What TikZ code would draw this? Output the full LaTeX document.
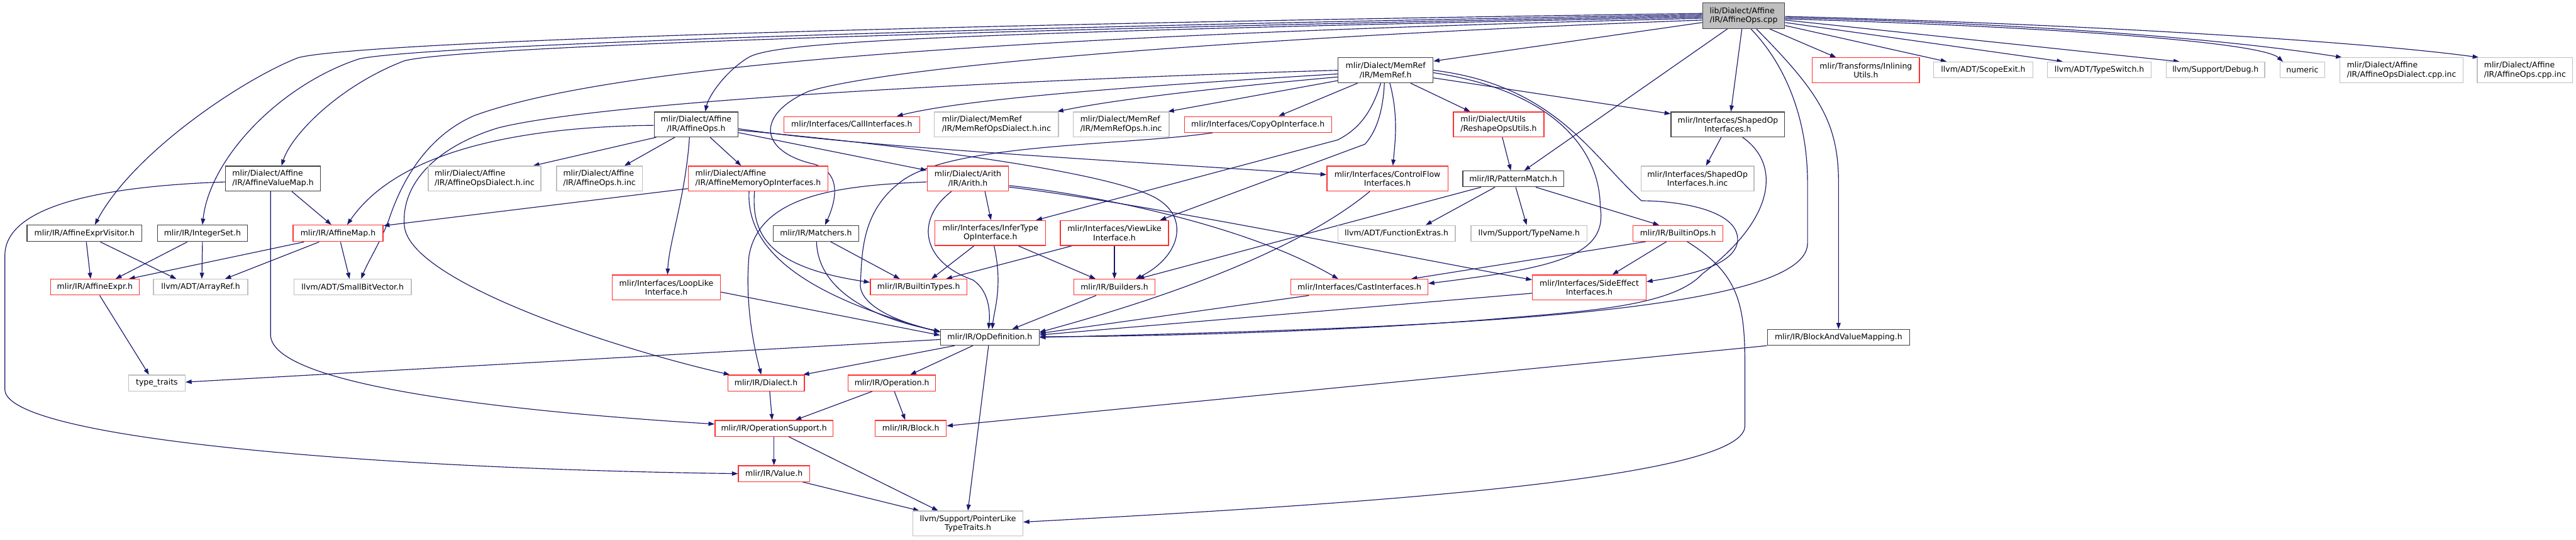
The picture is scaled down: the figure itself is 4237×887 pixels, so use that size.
\documentclass[tikz,border=0pt]{standalone}
\usepackage{fontspec}
\setmainfont{DejaVu Sans}
\usetikzlibrary{arrows.meta}
\pgfdeclarelayer{bg}
\pgfsetlayers{bg,main}
\definecolor{edgec}{HTML}{191970}
\definecolor{redb}{HTML}{FF3030}
\definecolor{grayb}{HTML}{BFBFBF}
\definecolor{blackb}{HTML}{404040}
\begin{document}
\begin{tikzpicture}[x=1pt,y=-1pt,
  box/.style={draw, line width=1.3pt, fill=white, inner sep=0pt, text=black,
    font=\fontsize{12.9}{15}\selectfont, align=center},
  kbox/.style={box, draw=blackb},
  rbox/.style={box, draw=redb},
  gbox/.style={box, draw=grayb},
  sz/.style 2 args={minimum width=#1, minimum height=#2},
  conn/.style={draw=edgec, line width=1.2pt, -{Triangle[length=10pt,width=7pt]}}]
\useasboundingbox (0,0) rectangle (4237,887);
% ---------- nodes ----------
\node[kbox, fill=grayb, sz={135}{42}, align=left] (root) at (2868,26) {lib/Dialect/Affine\\/IR/AffineOps.cpp};
\node[kbox, sz={156}{41}] (memref) at (2279,115.5) {mlir/Dialect/MemRef\\/IR/MemRef.h};
\node[rbox, sz={176}{41}] (inlining) at (3069,115.5) {mlir/Transforms/Inlining\\Utils.h};
\node[gbox, sz={163}{26}] (scopeexit) at (3262,115) {llvm/ADT/ScopeExit.h};
\node[gbox, sz={171}{26}] (typeswitch) at (3453,115) {llvm/ADT/TypeSwitch.h};
\node[gbox, sz={162}{26}] (debug) at (3644,115) {llvm/Support/Debug.h};
\node[gbox, sz={74}{26}] (numeric) at (3787,115) {numeric};
\node[gbox, sz={203}{41}, align=left] (dialcpp) at (3950,115.5) {mlir/Dialect/Affine\\/IR/AffineOpsDialect.cpp.inc};
\node[gbox, sz={157}{41}, align=left] (opscpp) at (4153,115.5) {mlir/Dialect/Affine\\/IR/AffineOps.cpp.inc};

\node[kbox, sz={138}{41}] (affineops) at (1145,204.5) {mlir/Dialect/Affine\\/IR/AffineOps.h};
\node[rbox, sz={223}{26}] (callif) at (1401,204.5) {mlir/Interfaces/CallInterfaces.h};
\node[gbox, sz={204}{41}, align=left] (mrdial) at (1639,204.5) {mlir/Dialect/MemRef\\/IR/MemRefOpsDialect.h.inc};
\node[gbox, sz={158}{41}, align=left] (mrops) at (1844,204.5) {mlir/Dialect/MemRef\\/IR/MemRefOps.h.inc};
\node[rbox, sz={242}{26}] (copyop) at (2069,204.5) {mlir/Interfaces/CopyOpInterface.h};
\node[rbox, sz={149}{41}, align=left] (reshape) at (2465,204.5) {mlir/Dialect/Utils\\/ReshapeOpsUtils.h};
\node[kbox, sz={187}{41}] (shaped) at (2842,204.5) {mlir/Interfaces/ShapedOp\\Interfaces.h};

\node[kbox, sz={156}{41}, align=left] (valuemap) at (449,293.5) {mlir/Dialect/Affine\\/IR/AffineValueMap.h};
\node[gbox, sz={185}{41}, align=left] (affdialinc) at (797,293.5) {mlir/Dialect/Affine\\/IR/AffineOpsDialect.h.inc};
\node[gbox, sz={141}{41}, align=left] (affopsinc) at (986,293.5) {mlir/Dialect/Affine\\/IR/AffineOps.h.inc};
\node[rbox, sz={230}{41}, align=left] (memop) at (1247,293.5) {mlir/Dialect/Affine\\/IR/AffineMemoryOpInterfaces.h};
\node[rbox, sz={134}{41}] (arith) at (1592,293.5) {mlir/Dialect/Arith\\/IR/Arith.h};
\node[rbox, sz={199}{41}] (cflow) at (2282,293.5) {mlir/Interfaces/ControlFlow\\Interfaces.h};
\node[kbox, sz={166}{26}] (pattern) at (2489,294) {mlir/IR/PatternMatch.h};
\node[gbox, sz={186}{41}] (shapedinc) at (2792,293.5) {mlir/Interfaces/ShapedOp\\Interfaces.h.inc};

\node[kbox, sz={189}{27}] (exprvisitor) at (139,383.5) {mlir/IR/AffineExprVisitor.h};
\node[kbox, sz={148}{27}] (integerset) at (333,383.5) {mlir/IR/IntegerSet.h};
\node[rbox, sz={148}{27}] (affinemap) at (556,383.5) {mlir/IR/AffineMap.h};
\node[kbox, sz={141}{26}] (matchers) at (1342,383.5) {mlir/IR/Matchers.h};
\node[rbox, sz={182}{41}] (infertype) at (1629,383) {mlir/Interfaces/InferType\\OpInterface.h};
\node[rbox, sz={178}{41}] (viewlike) at (1833,383) {mlir/Interfaces/ViewLike\\Interface.h};
\node[gbox, sz={193}{26}] (funcextras) at (2297,383.5) {llvm/ADT/FunctionExtras.h};
\node[gbox, sz={191}{26}] (typename) at (2515,383.5) {llvm/Support/TypeName.h};
\node[rbox, sz={148}{26}] (builtinops) at (2760,383.5) {mlir/IR/BuiltinOps.h};

\node[rbox, sz={146}{26}] (affineexpr) at (156,472) {mlir/IR/AffineExpr.h};
\node[gbox, sz={155}{26}] (arrayref) at (330,472) {llvm/ADT/ArrayRef.h};
\node[gbox, sz={193}{26}] (smallbv) at (580,472) {llvm/ADT/SmallBitVector.h};
\node[rbox, sz={178}{41}] (looplike) at (1096,472.5) {mlir/Interfaces/LoopLike\\Interface.h};
\node[rbox, sz={159}{26}] (builtintypes) at (1511,472) {mlir/IR/BuiltinTypes.h};
\node[rbox, sz={134}{26}] (builders) at (1833,472) {mlir/IR/Builders.h};
\node[rbox, sz={225}{26}] (castif) at (2236,472) {mlir/Interfaces/CastInterfaces.h};
\node[rbox, sz={187}{41}] (sideeffect) at (2614,472.5) {mlir/Interfaces/SideEffect\\Interfaces.h};

\node[kbox, sz={162}{26}] (opdef) at (1628,554.5) {mlir/IR/OpDefinition.h};
\node[kbox, sz={234}{26}] (bvmap) at (3024,554.5) {mlir/IR/BlockAndValueMapping.h};

\node[gbox, sz={93}{26}] (typetraits) at (258,629.5) {type\_traits};
\node[rbox, sz={126}{26}] (dialect) at (1260,629.5) {mlir/IR/Dialect.h};
\node[rbox, sz={144}{26}] (operation) at (1467,629.5) {mlir/IR/Operation.h};
\node[rbox, sz={194}{26}] (opsupport) at (1273,704) {mlir/IR/OperationSupport.h};
\node[rbox, sz={117}{26}] (block) at (1498,704) {mlir/IR/Block.h};
\node[rbox, sz={117}{26}] (value) at (1273,778.5) {mlir/IR/Value.h};
\node[gbox, sz={181}{41}] (pointerlike) at (1592,860.5) {llvm/Support/PointerLike\\TypeTraits.h};

% ---------- edges ----------
\begin{pgfonlayer}{bg}
\fill[white] (0,0) rectangle (4237,887);
% root, right side
\draw[conn] ([xshift=43]root.south) -- ([xshift=-49]inlining.north);
\draw[conn] ([yshift=-16]root.east) -- ([xshift=-60]scopeexit.north);
\draw[conn] ([yshift=-11]root.east) -- ([xshift=-60]typeswitch.north);
\draw[conn] ([yshift=-7]root.east) -- ([xshift=-59]debug.north);
\draw[conn] ([yshift=-5]root.east) .. controls (3400,45) and (3720,70) .. ([xshift=-32]numeric.north);
\draw[conn] ([yshift=-3]root.east) .. controls (3400,40) and (3700,70) .. ([xshift=-98]dialcpp.north);
\draw[conn] ([yshift=-1]root.east) .. controls (3450,40) and (3900,70) .. ([xshift=-76]opscpp.north);
% root, down
\draw[conn] ([xshift=-3]root.south) -- ([xshift=5]shaped.north);
\draw[conn] ([yshift=-11]root.west) -- ([yshift=15]memref.east);
\draw[conn] ([xshift=-27]root.south) -- ([xshift=18]pattern.north);
\draw[conn] ([xshift=12]root.south) .. controls (2940,110) and (2973,200) .. (2973,300) -- (2973,400) .. controls (2973,520) and (2300,540) .. (opdef.east);
\draw[conn] ([xshift=21]root.south) .. controls (2990,150) and (3024,200) .. (3024,300) -- (bvmap.north);
% root, left bundle
\draw[conn] ([yshift=4]root.west) .. controls (1200,45) and (560,75) .. (490,95) .. controls (400,130) and (220,250) .. ([xshift=17]exprvisitor.north);
\draw[conn] ([yshift=2]root.west) .. controls (1300,50) and (660,80) .. (590,97) .. controls (460,140) and (345,260) .. (integerset.north);
\draw[conn] (root.west) .. controls (1300,55) and (730,82) .. (665,100) .. controls (560,140) and (480,220) .. ([xshift=14]valuemap.north);
\draw[conn] ([yshift=-2]root.west) .. controls (1500,55) and (1270,70) .. (1230,95) .. controls (1190,120) and (1165,160) .. ([xshift=15]affineops.north);
\draw[conn] ([yshift=-4]root.west) .. controls (1600,60) and (1000,110) .. (780,190) .. controls (700,225) and (660,300) .. (640,360) .. controls (625,400) and (605,430) .. ([xshift=14]smallbv.north);
\draw[conn] ([yshift=-7]root.west) .. controls (2200,55) and (1500,100) .. (1330,150) .. controls (1240,190) and (1250,250) .. (1340,270) .. controls (1385,285) and (1375,330) .. ([xshift=15]matchers.north);
% MemRef.h
\draw[conn] ([yshift=-6]memref.west) .. controls (1900,140) and (1600,160) .. ([xshift=74]callif.north);
\draw[conn] ([yshift=-11]memref.west) .. controls (2050,140) and (1850,160) .. ([xshift=100]mrdial.north);
\draw[conn] ([yshift=-17]memref.west) -- ([xshift=77]mrops.north);
\draw[conn] ([xshift=-46]memref.south) -- ([xshift=34]copyop.north);
\draw[conn] ([xshift=41]memref.south) -- ([xshift=-47]reshape.north);
\draw[conn] ([xshift=7]memref.south) .. controls (2300,190) and (2295,230) .. ([xshift=9]cflow.north);
\draw[conn] ([xshift=-8]memref.south) .. controls (2255,190) and (2230,215) .. (2200,230) -- ([xshift=75]infertype.north);
\draw[conn] ([xshift=-2]memref.south) .. controls (2275,180) and (2265,215) .. (2245,237) -- ([xshift=75]viewlike.north);
\draw[conn] ([yshift=-12.5]memref.east) -- ([yshift=17.5]shaped.west);
\draw[conn] (memref.east) .. controls (2560,140) and (2620,260) .. (2700,330) .. controls (2760,330) and (2860,345) .. (2858,395) .. controls (2855,440) and (2760,455) .. ([yshift=9.5]sideeffect.east);
\draw[conn] ([yshift=-4]memref.east) .. controls (2560,150) and (2632,250) .. (2632,340) .. controls (2645,420) and (2560,440) .. ([yshift=6]castif.east);
\draw[conn] (memref.west) .. controls (1700,130) and (1000,165) .. (820,210) .. controls (720,240) and (660,300) .. (665,370) .. controls (670,460) and (1000,570) .. ([xshift=4]dialect.north west);
% AffineOps.h
\draw[conn] ([xshift=4]affineops.south west) -- ([xshift=80]affdialinc.north);
\draw[conn] ([xshift=-35]affineops.south) -- ([xshift=41]affopsinc.north);
\draw[conn] ([xshift=23]affineops.south) -- ([xshift=-28]memop.north);
\draw[conn] ([xshift=-11]affineops.south) .. controls (1128,320) and (1100,400) .. ([xshift=2]looplike.north);
\draw[conn] ([yshift=-1.5]affineops.west) .. controls (880,208) and (660,240) .. ([xshift=15]affinemap.north);
\draw[conn] ([yshift=-13.5]affineops.east) -- ([yshift=13.5]arith.west);
\draw[conn] ([yshift=-7]affineops.east) .. controls (1400,240) and (1800,262) .. ([yshift=6.5]cflow.west);
\draw[conn] ([yshift=-9.5]affineops.east) .. controls (1500,240) and (1800,280) .. (1890,320) .. controls (1960,350) and (1945,420) .. ([xshift=35]builders.north);
% AffineValueMap.h
\draw[conn] ([xshift=31]valuemap.south) -- ([xshift=-11]affinemap.north);
\draw[conn] ([xshift=-4]valuemap.south) -- (445,550) .. controls (445,640) and (900,680) .. ([yshift=7]opsupport.west);
\draw[conn] ([yshift=-5.5]valuemap.west) .. controls (200,305) and (8,330) .. (8,420) -- (8,640) .. controls (8,720) and (600,770) .. (value.west);
% expr / set / map
\draw[conn] ([xshift=3]exprvisitor.south) -- ([xshift=-7]affineexpr.north);
\draw[conn] ([xshift=26]exprvisitor.south) -- ([xshift=-40]arrayref.north);
\draw[conn] ([xshift=-25]integerset.south) -- ([xshift=34]affineexpr.north);
\draw[conn] (integerset.south) -- ([xshift=2]arrayref.north);
\draw[conn] ([xshift=-56]affinemap.south) -- ([xshift=56]affineexpr.north);
\draw[conn] ([xshift=-31]affinemap.south) -- ([xshift=40]arrayref.north);
\draw[conn] ([xshift=4]affinemap.south) -- ([xshift=-5]smallbv.north);
\draw[conn] ([xshift=8]affineexpr.south) -- ([xshift=-13]typetraits.north);
% AffineMemoryOpInterfaces.h
\draw[conn] ([yshift=-16.5]memop.west) -- ([yshift=12.5]affinemap.east);
\draw[conn] ([xshift=-6]memop.south) .. controls (1235,390) and (1270,440) .. ([yshift=8]builtintypes.west);
\draw[conn] ([xshift=-15]memop.south) .. controls (1228,400) and (1300,480) .. ([yshift=8.5]opdef.west);
% Arith.h
\draw[conn] ([xshift=28]arith.south) -- ([xshift=1]infertype.north);
\draw[conn] ([xshift=-27]arith.south) .. controls (1505,360) and (1515,430) .. (1600,460) .. controls (1630,480) and (1628,520) .. ([xshift=-2]opdef.north);
\draw[conn] ([yshift=-5.5]arith.west) .. controls (1380,305) and (1250,320) .. (1232,420) .. controls (1225,500) and (1240,570) .. ([xshift=-8]dialect.north);
\draw[conn] ([yshift=-11.5]arith.east) .. controls (1800,320) and (2050,370) .. ([xshift=-35]castif.north);
\draw[conn] ([yshift=-14]arith.east) .. controls (1850,330) and (2200,400) .. ([yshift=12.5]sideeffect.west);
% InferType / ViewLike / Matchers / LoopLike / CopyOp
\draw[conn] ([xshift=-27]infertype.south) -- ([xshift=21]builtintypes.north);
\draw[conn] ([xshift=6]infertype.south) .. controls (1650,470) and (1635,510) .. ([xshift=4]opdef.north);
\draw[conn] ([xshift=46]infertype.south) -- ([xshift=-31]builders.north);
\draw[conn] ([xshift=-70]viewlike.south) -- ([xshift=45]builtintypes.north);
\draw[conn] (viewlike.south) -- (builders.north);
\draw[conn] ([xshift=24]matchers.south) -- ([xshift=-31]builtintypes.north);
\draw[conn] ([xshift=1]matchers.south) .. controls (1345,470) and (1420,520) .. ([yshift=10]opdef.west);
\draw[conn] ([yshift=-7.5]looplike.east) -- ([yshift=3.5]opdef.west);
\draw[conn] ([xshift=-74]copyop.south) .. controls (1850,240) and (1560,235) .. (1480,300) .. controls (1415,350) and (1418,420) .. (1415,470) .. controls (1418,505) and (1480,530) .. ([yshift=9]opdef.west);
% PatternMatch.h / Reshape / ControlFlow / ShapedOp
\draw[conn] ([xshift=-30]pattern.south) -- ([xshift=48]funcextras.north);
\draw[conn] ([xshift=4]pattern.south) -- ([xshift=-4]typename.north);
\draw[conn] ([xshift=37]pattern.south) -- ([xshift=-31]builtinops.north);
\draw[conn] ([xshift=-53]pattern.south) -- ([xshift=39]builders.north);
\draw[conn] ([xshift=6]reshape.south) -- ([xshift=-4]pattern.north);
\draw[conn] ([xshift=-29]cflow.south) .. controls (2150,400) and (1960,478) .. ([yshift=8.5]opdef.east);
\draw[conn] ([xshift=-11]shaped.south) -- ([xshift=14]shapedinc.north);
\draw[conn] ([xshift=24]shaped.south) .. controls (2930,270) and (2920,360) .. (2800,450) .. controls (2750,505) and (2600,512) .. (2450,525) .. controls (2200,545) and (1900,553) .. ([yshift=1]opdef.east);
% BuiltinOps.h
\draw[conn] ([xshift=-53]builtinops.south) -- ([xshift=85]castif.north);
\draw[conn] ([xshift=-19]builtinops.south) -- ([xshift=38]sideeffect.north);
\draw[conn] ([xshift=15]builtinops.south) .. controls (2860,450) and (2870,500) .. (2870,600) -- (2870,700) .. controls (2870,790) and (2200,830) .. ([yshift=2.5]pointerlike.east);
% into OpDefinition
\draw[conn] ([xshift=-83]castif.south) -- ([yshift=6.5]opdef.east);
\draw[conn] ([yshift=-9.5]sideeffect.west) -- ([yshift=4]opdef.east);
\draw[conn] ([xshift=-30]builders.south) -- ([xshift=37]opdef.north);
% OpDefinition.h and below
\draw[conn] ([yshift=-3.5]opdef.west) -- ([yshift=1.5]typetraits.east);
\draw[conn] ([xshift=-58]opdef.south) -- ([xshift=61]dialect.north);
\draw[conn] ([xshift=-28]opdef.south) -- ([xshift=30]operation.north);
\draw[conn] ([xshift=-2]opdef.south) -- (pointerlike.north);
\draw[conn] ([xshift=6]dialect.south) -- ([xshift=-3]opsupport.north);
\draw[conn] ([xshift=-32]operation.south) -- ([xshift=35]opsupport.north);
\draw[conn] ([xshift=4]operation.south) -- ([xshift=-9]block.north);
\draw[conn] (opsupport.south) -- (value.north);
\draw[conn] ([xshift=24]opsupport.south) -- ([xshift=-49]pointerlike.north);
\draw[conn] ([xshift=47]value.south) -- ([xshift=-80]pointerlike.north);
\draw[conn] (bvmap.south west) -- ([yshift=4]block.east);
\end{pgfonlayer}
\end{tikzpicture}
\end{document}
